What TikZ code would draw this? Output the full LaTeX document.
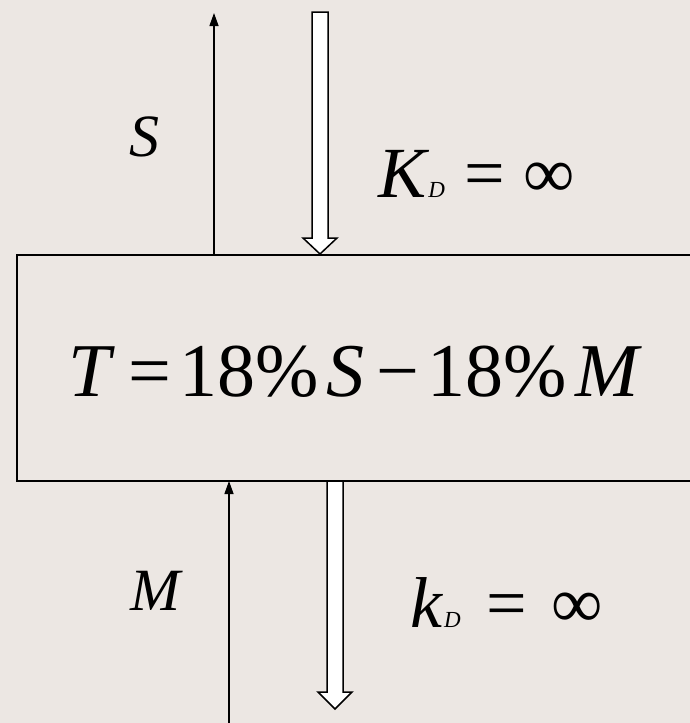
\documentclass[tikz,border=0pt]{standalone}
\usepackage{fontspec}
\setmainfont{Liberation Serif}
\usetikzlibrary{arrows.meta}
\definecolor{slidebg}{RGB}{236,231,227}
\newcommand{\lowidx}[1]{{\fontsize{23}{23}\selectfont\itshape #1}}
\newcommand{\fatdown}[4]{% centre x, top y, head y, tip y
  \filldraw[fatarr] (#1-8,#2) -- (#1+8,#2) -- (#1+8,#3) -- (#1+17,#3)
    -- (#1,#4) -- (#1-17,#3) -- (#1-8,#3) -- cycle;}
\tikzset{
  boxline/.style = {draw, line width=2pt, inner sep=0pt, outer sep=0pt},
  thinarr/.style = {-{Triangle[length=13pt,width=9pt]}, line width=1.3pt},
  fatarr/.style  = {fill=white, draw=black, line width=1.5pt, line join=miter},
  lbl/.style     = {font=\fontsize{60}{60}\selectfont\itshape, inner sep=0pt},
  eqn/.style     = {font=\fontsize{72}{72}\selectfont, inner sep=0pt, anchor=base west}
}
\begin{document}
\begin{tikzpicture}[x=1pt,y=-1pt]
  \fill[slidebg] (0,0) rectangle (690,723);
  \clip (0,0) rectangle (690,723);
  % the box, open to the right
  \node[boxline, anchor=north west, minimum width=700pt, minimum height=226pt] (model) at (17,255) {};
  \node[inner sep=0pt, anchor=base, font=\fontsize{76}{76}\selectfont] (eq) at (355,396)
    {\textit{T}\kern14pt=\kern8pt18\%\kern8pt\textit{S}\kern12pt\textminus\kern8pt18\%\kern8pt\textit{M}};
  % inputs and outputs
  \coordinate (stop) at (214,13);
  \coordinate (mbot) at (229,723);
  \draw[thinarr] (model.north -| stop) -- (stop);
  \draw[thinarr] (mbot) -- (model.south -| mbot);
  \fatdown{320}{12}{238}{254}
  \fatdown{335}{481}{692}{709}
  \node[lbl] (slbl) at (144,137) {S};
  \node[lbl] (mlbl) at (155,591) {M};
  \node[eqn] (kup) at (378,197)
    {\textit{K}\kern-1pt\lowidx{D}\kern20pt=\kern18pt∞};
  \node[eqn] (kdn) at (410,627)
    {\textit{k}\kern1pt\lowidx{D}\kern26pt=\kern24pt∞};
\end{tikzpicture}
\end{document}
